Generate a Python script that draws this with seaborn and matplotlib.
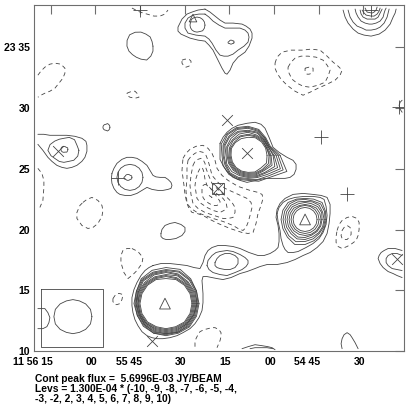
#!/usr/bin/env python3
# Contour map of continuum flux, contours
import numpy as np
import pandas as pd
import matplotlib
matplotlib.use("Agg")
import matplotlib.pyplot as plt
from matplotlib.transforms import ScaledTranslation
import seaborn as sb

#%% Axis labels (RA seconds relative to 11 56 00, Dec minutes relative to 23 00)
ra_ticks = [15, 0, -15, -30, -45, -60, -75, -90]
ra_labels = ["11 56 15", "00", "55 45", "30", "15", "00", "54 45", "30"]
dec_ticks = [35, 30, 25, 20, 15, 10]
dec_labels = ["23 35", "30", "25", "20", "15", "10"]
note_lines = ["Cont peak flux =  5.6996E-03 JY/BEAM",
              "Levs = 1.300E-04 * (-10, -9, -8, -7, -6, -5, -4,",
              "-3, -2, 2, 3, 4, 5, 6, 7, 8, 9, 10)"]

#%% Positive contours, traced as (x, y) on the 409 px sheet
pos_left_1 = [(38,134),(44,134),(50,135),(58,135),(67,135),(75,136),(82,138),(86,141),(87,145),(87,151),(85,157),(82,161),(77,165),(72,167),(67,168),(62,167),(57,165),(52,161),(48,157),(43,150),(38,144)]
pos_mid_1 = [(112,173),(114,168),(117,163),(122,159),(127,157),(132,157),(137,158),(142,161),(147,165),(150,170),(153,175),(156,176.5),(160,177),(165,177),(168,179),(171,182),(172,185),(171,188),(168,189),(163,190),(158,190),(152,189),(147,187),(142,190),(137,193),(131,195),(125,195),(120,194),(117,192),(114,188),(112,183),(111.5,178),(112,173)]
pos_arm_1 = [(205,9),(198,10),(192,12),(187,14),(182,19),(178,27),(178,31),(181,34),(190,38),(198,40),(205,41),(209,45),(213,50),(218,60),(222,68),(225,73),(227,74),(230,70),(233,63),(238,57),(245,52),(249,46),(252,38),(252,33),(250,29),(246,26),(242,24),(233,23),(225,23),(220,20),(215,16),(210,12),(205,9)]
pos_arm_2 = [(205,14),(199,14),(193,15),(188,18),(185,23),(185,28),(188,33),(196,35),(205,36),(209,39),(212,43),(216,50),(220,55),(224,56),(228,56),(233,54),(238,50),(244,46),(248,42),(249,37),(248,33),(245,30),(240,28),(233,28),(225,28),(219,25),(213,21),(209,17),(205,14)]
pos_corner_1 = [(343,10),(345,17),(348,23),(353,29),(358,33),(364,35),(371,36),(379,34),(385,30),(390,24),(393,17),(395,13),(396,9)]
pos_corner_2 = [(348,10),(350,17),(353,22),(357,26),(362,28),(366,30),(371,30),(376,29),(380,27),(384,23),(387,17),(388,13),(389,9)]
pos_corner_3 = [(355,9),(356,13),(358,17),(361,21),(365,23),(369,24),(372,24),(376,23),(380,21),(383,17),(384,13),(385,10),(386,8)]
pos_corner_4 = [(360,10),(361,14),(363,17),(367,19),(371,19),(375,19),(378,17),(380,13),(382,9)]
pos_corner_5 = [(362,10),(364,13),(366,15),(371,16),(374,16),(377,14),(379,11),(380,8)]
pos_corner_6 = [(365,8),(366,10),(367,12),(372,13),(374,12),(376,10),(377,7)]
pos_north_1 = [(220,143),(223,137),(227,132),(232,128),(238,125),(247,123),(255,122),(261,124),(265,128),(269,137),(273,147),(279,152),(287,157),(293,160),(296,164),(296,169),(294,174),(290,177),(285,178),(275,178),(265,178),(256,180),(247,182),(240,180),(233,177),(227,171),(223,165),(220,159),(220,153),(220,148),(220,143)]
pos_bridge = [(153,265),(161,263),(170,263),(179,264),(187,265),(194,267),(200,268),(203,262),(205,255),(208,250),(212,247),(218,245),(225,245),(233,246),(240,248),(249,252),(258,255),(264,255),(270,253),(275,250),(278,247),(279,241),(279,233),(278,225),(276,217),(277,209),(280,203),(285,198),(293,194),(303,193),(313,194),(321,195),(327,197),(330,204),(330,213),(329,223),(327,233),(323,241),(317,247),(310,252),(303,255),(295,259),(287,262),(277,264),(267,264),(260,266),(255,268),(247,271),(240,273),(231,277),(223,279),(217,278),(212,277),(207,276),(203,276),(202,280),(203,293),(203,302),(202,310),(199,317),(195,323),(190,328),(183,332),(177,335),(170,337),(163,338),(157,338),(152,337),(147,335),(142,331),(138,325),(135,319),(133,312),(132,305),(132,297),(134,289),(137,282),(141,275),(145,270),(149,267),(153,265)]
pos_saddle_1 = [(215,262),(217,258),(220,255),(225,253),(230,253),(235,255),(238,258),(238,263),(235,267),(230,269),(225,269),(220,268),(217,267),(215,265),(215,262)]
pos_saddle_2 = [(207,265),(208,260),(212,255),(216,252),(220,251),(227,250),(233,251),(240,254),(245,257),(248,260),(248,263),(246,266),(242,269),(235,272),(227,275),(220,274),(213,272),(209,269),(207,265)]
pos_east_2 = [(277,213),(279,207),(283,202),(288,199),(295,197),(304,196),(313,196),(320,197),(324,199),(326,206),(327,215),(326,224),(323,232),(319,238),(313,243),(306,247),(298,251),(293,252),(288,252),(285,249),(283,245),(281,238),(280,230),(278,221),(277,213)]
pos_right_1 = [(402,250),(395,248),(388,248),(384,250),(381,252),(379,255),(378,258),(380,263),(383,267),(388,271),(393,273),(397,275),(402,277)]
pos_right_2 = [(402,255),(397,253),(392,253),(388,255),(386,258),(386,262),(388,265),(392,268),(397,269),(402,270)]
pos_bottom_1 = [(342,348),(341,343),(342,338),(344,334),(347,332),(350,334),(352,337),(355,342),(358,348)]
pos_bottom_2 = [(242,348),(248,346),(255,344),(262,345),(268,346),(272,347),(275,349)]
pos_bottom_3 = [(250,348),(255,347),(260,347),(267,347),(273,348)]
pos_small = [(161,233),(162,229),(165,225),(170,223),(175,222),(181,224),(185,227),(185,231),(182,235),(176,238),(170,239),(166,239),(163,238),(161,236),(161,233)]
pos_edge = [(402,100),(400,102),(399,105),(400,109),(402,112)]

#%% Negative contours
neg_west = [(38,75),(41,71),(45,67),(50,64),(55,63),(61,64),(65,68),(65,73),(63,78),(59,83),(55,88),(50,91),(45,93),(41,95),(38,97)]
neg_top = [(132,8),(140,12),(147,14),(154,16),(160,16),(165,14),(168,10)]
neg_dot_1 = [(182,60),(185,59),(189,59),(191,61),(191,63),(189,66),(186,67),(184,66),(182,63),(182,60)]
neg_dot_2 = [(127,93),(132,91),(135,91),(137,93),(139,97),(135,98),(130,97),(127,95),(127,93)]
neg_side = [(38,168),(42,173),(44,180),(44,187),(43,200),(40,207)]
neg_blob_1 = [(83,202),(87,199),(92,197),(98,200),(102,205),(103,210),(102,216),(98,223),(93,227),(88,228),(82,225),(77,218),(77,212),(80,205),(83,202)]
neg_blob_2 = [(132,248),(138,251),(143,257),(142,263),(137,270),(133,274),(128,278),(124,272),(121,262),(121,255),(123,250),(127,248),(132,248)]
neg_blob_3 = [(113,298),(115,295),(117,293),(120,293),(123,294),(122,299),(120,303),(117,304),(115,304),(113,301),(113,298)]
neg_low = [(195,346),(195,342),(196,338),(198,334),(200,331),(204,329),(208,328),(212,327),(215,327),(219,329),(221,332),(221,336),(220,340),(217,347)]
neg_east_1 = [(337,230),(339,224),(342,220),(347,217),(352,216),(357,218),(359,222),(359,229),(358,235),(356,240),(352,243),(347,246),(342,248),(338,246),(336,242),(336,236),(337,230)]
neg_east_2 = [(342,230),(344,227),(347,225),(350,227),(351,230),(351,234),(349,237),(347,239),(344,239),(342,238),(341,235),(342,230)]
neg_ne_1 = [(275,63),(277,57),(282,52),(291,50),(302,50),(311,49),(320,50),(327,56),(333,62),(338,66),(342,70),(340,75),(335,80),(327,84),(318,88),(310,92),(303,95),(295,91),(287,85),(281,79),(277,73),(275,68),(275,63)]
neg_ne_2 = [(288,67),(291,62),(295,58),(301,56),(308,56),(316,57),(323,60),(327,65),(330,70),(328,76),(325,82),(318,85),(310,87),(303,86),(297,83),(292,79),(290,75),(288,71),(288,67)]
neg_ne_3 = [(305,68),(309,67),(313,68),(313,71),(312,73),(309,74),(307,74),(305,71),(305,68)]
neg_core_1 = [(183,158),(186,153),(190,149),(196,146),(203,145),(208,148),(212,153),(215,160),(217,168),(222,175),(228,180),(238,186),(250,190),(258,192),(262,194),(263,198),(261,205),(258,213),(256,223),(253,232),(248,233),(242,232),(230,228),(218,223),(210,219),(203,215),(197,213),(192,212),(189,208),(187,203),(185,194),(184,185),(182,170),(183,158)]
neg_core_2 = [(188,160),(191,156),(195,153),(199,151),(203,152),(206,155),(208,160),(210,167),(212,175),(218,182),(225,188),(236,193),(247,198),(251,202),(252,207),(250,215),(248,222),(246,227),(243,230),(238,228),(233,225),(223,221),(213,218),(205,215),(197,212),(191,208),(187,203),(186,190),(187,178),(187,168),(188,160)]
neg_core_3 = [(193,165),(195,161),(198,159),(201,158),(203,159),(205,163),(206,168),(209,176),(212,183),(219,190),(227,197),(232,202),(235,207),(235,212),(233,217),(228,218),(223,218),(214,215),(205,212),(198,208),(193,203),(191,194),(190,185),(191,175),(193,165)]
neg_core_4 = [(198,172),(200,168),(202,167),(203,169),(204,172),(205,179),(207,185),(215,192),(223,198),(226,202),(227,207),(224,210),(220,212),(213,210),(207,207),(201,203),(197,198),(196,192),(195,185),(196,178),(198,172)]
neg_core_5 = [(203,185),(205,184),(208,185),(213,191),(218,198),(220,201),(220,203),(217,205),(213,205),(209,203),(205,200),(203,197),(202,193),(202,189),(203,185)]
neg_core_6 = [(209,195),(212,197),(209,198)]

#%% Round contours: radius read every 22.5 deg round a centre
round_shapes = [((141, 46), [12,12,13,13,14,15,16,15,14,13,12,12,13,15,14,13]),    # top blob
                ((106, 127), [4,4,4,4,3,3,3,3,3,3,3,3,3,4,4,4]),                    # isolated dot
                ((64, 150), [15,14,15,14,12,12,13,15,16,14,12,12,12,12,14,15]),     # west source
                ((64, 149), [4,4,3,3,3,3,3,3,3,3,3,3,3,3,4,4]),
                ((130, 177), [13,13,13,13,13,13,13,13,13,13,13,13,13,13,13,13]),    # central west source
                ((128, 177), [4,4,3,3,3,3,3,3,4,4,3,3,3,3,3,4]),
                ((197, 25), [8,8,8,8,8,8,8,7,7,7,7,7,7,7,8,8]),                     # top arm peak
                ((231, 42), [3,3,2,2,2,2,2,2,3,3,2,2,2,2,2,3])]

#%% Tight rings round the three bright sources
north_centre = (248, 155)
north_rings = [[19,19,19,19,18,18,18,18,17,17,17,17,17,18,18,20],
               [21,20,20,20,20,20,19,19,18,18,18,18,18,19,20,22],
               [22,20,21,21,21,21,21,20,19,19,19,19,19,20,21,24],
               [23,21,22,22,23,23,22,22,20,20,20,20,20,21,22,26],
               [25,22,22,24,24,25,24,23,21,21,21,21,21,22,24,29],
               [26,22,23,25,25,26,26,25,22,23,23,22,22,23,25,32],
               [28,23,24,26,27,28,27,26,24,24,25,24,23,24,27,35],
               [30,23,24,27,28,29,29,27,25,25,26,25,24,26,29,38],
               [32,24,25,28,29,30,30,29,26,27,27,26,25,28,31,42]]
east_centre = (305, 219)
east_rings = [[12,12,12,12,12,12,12,12,12,12,12,12,12,12,12,12],
              [14,14,14,14,14,14,14,14,14,14,14,14,14,14,14,14],
              [16,16,16,15,15,15,16,16,16,16,16,16,16,16,16,16],
              [17,18,18,17,17,17,18,18,18,18,18,19,18,17,17,17],
              [19,19,20,19,18,19,20,20,20,20,20,21,20,19,19,19],
              [20,21,22,20,20,21,22,22,22,22,23,24,22,21,20,20],
              [21,22,24,22,21,22,24,24,24,24,25,27,25,23,22,21]]
south_centre = (166, 303)
south_rings = [[26,26,26,26,25,26,26,26,26,26,26,25,25,25,26,26],
               [27,27,27,27,27,27,27,27,27,27,27,26,26,26,27,27],
               [28,28,28,28,28,28,28,28,28,28,28,27,27,27,28,28],
               [29,29,29,30,29,29,29,29,28,28,28,28,28,28,29,29],
               [30,30,30,31,31,31,30,30,29,29,29,29,29,29,29,30],
               [31,31,31,32,32,32,32,30,30,29,30,30,30,30,30,30],
               [31,32,33,34,33,33,33,31,30,30,30,31,30,31,31,31],
               [32,33,34,35,34,34,34,32,31,31,31,32,31,31,32,32],
               [33,33,35,37,36,36,35,32,32,31,32,32,32,32,33,33]]

#%% Beam inset and source markers
beam_box = [(41,288),(103,288),(103,346),(41,346),(41,288)]
beam_centre = (73, 316)
beam_main = [19,19,18,17,17,17,18,19,19,19,18,17,17,17,18,19]
beam_side = [(38,308),(42,308),(45,308),(48,312),(50,317),(49,322),(47,326),(43,328),(38,328)]
tri_points = [(165,303),(305,219)]
tri_small = [(193,18)]
cross_points = [(58,151),(227,120),(247,153),(397,258),(152,340),(218,188)]
plus_points = [(118,178),(140,10),(371,10),(321,137),(347,194),(399,107)]
box_points = [(218,188)]


def to_sky(pts):
    # sheet position to RA seconds / Dec minutes, calibrated on the tick marks
    pts = np.asarray(pts, dtype=float)
    return (95.4 - pts[:, 0]) / 44.62 * 15, 35 + (47.3 - pts[:, 1]) / 12.12


def ring(centre, radii):
    ang = np.deg2rad(np.arange(len(radii)) * 22.5)
    r = np.asarray(radii, dtype=float)
    pts = np.column_stack([centre[0] + r * np.cos(ang), centre[1] - r * np.sin(ang)])
    return np.vstack([pts, pts[:1]])


def table(paths):
    frames = []
    for k, p in enumerate(paths):
        ra, dec = to_sky(p)
        frames.append(pd.DataFrame({"ra": ra, "dec": dec, "id": k}))
    return pd.concat(frames, ignore_index=True)


pos_paths = [pos_left_1, pos_mid_1, pos_arm_1, pos_arm_2, pos_corner_1, pos_corner_2,
             pos_corner_3, pos_corner_4, pos_corner_5, pos_corner_6, pos_north_1,
             pos_bridge, pos_saddle_1, pos_saddle_2, pos_east_2, pos_right_1, pos_right_2,
             pos_bottom_1, pos_bottom_2, pos_bottom_3, pos_small, pos_edge,
             beam_box, beam_side, ring(beam_centre, beam_main)]
pos_paths += [ring(c, r) for c, r in round_shapes]
pos_paths += [ring(north_centre, r) for r in north_rings]
pos_paths += [ring(east_centre, r) for r in east_rings]
pos_paths += [ring(south_centre, r) for r in south_rings]
neg_paths = [neg_west, neg_top, neg_dot_1, neg_dot_2, neg_side, neg_blob_1, neg_blob_2,
             neg_blob_3, neg_low, neg_east_1, neg_east_2, neg_ne_1, neg_ne_2, neg_ne_3,
             neg_core_1, neg_core_2, neg_core_3, neg_core_4, neg_core_5, neg_core_6]

#%% Plot
sb.set_style("white")
plt.rcParams["font.family"] = ["Liberation Sans", "DejaVu Sans"]
W = 409.0
ink = "#444444"
grey = "#6e6e6e"

fig = plt.figure(figsize=(4.09, 4.09), dpi=100)
ax = fig.add_axes([34.3 / W, 1 - 351 / W, 370 / W, 345.7 / W])

sb.lineplot(data=table(pos_paths), x="ra", y="dec", units="id", estimator=None, sort=False,
            color=ink, linewidth=0.6, legend=False, ax=ax)
n_solid = len(ax.lines)
sb.lineplot(data=table(neg_paths), x="ra", y="dec", units="id", estimator=None, sort=False,
            color=ink, linewidth=0.6, legend=False, ax=ax)
for line in ax.lines[n_solid:]:
    line.set_linestyle((0, (5, 4)))

for pts, mark, size in [(tri_points, "^", 60), (tri_small, "^", 30), (box_points, "s", 70)]:
    ra, dec = to_sky(pts)
    sb.scatterplot(x=ra, y=dec, marker=mark, s=size, linewidth=0.6, legend=False, ax=ax)
    ax.collections[-1].set_facecolor("none")
    ax.collections[-1].set_edgecolor(ink)
for pts, mark, size in [(cross_points, "x", 60), (plus_points, "+", 90)]:
    ra, dec = to_sky(pts)
    sb.scatterplot(x=ra, y=dec, marker=mark, s=size, color=ink, linewidth=0.6, legend=False, ax=ax)

ax.set_xlim(20.5, -103.8)
ax.set_ylim(10, 38.47)
ax.set_xlabel("")
ax.set_ylabel("")
ax.set_xticks(ra_ticks, ra_labels, ha="right")
ax.set_yticks(dec_ticks, dec_labels)
ax.tick_params(direction="in", length=6.8, width=0.8, color=grey, top=True, right=True,
               labelsize=7.6, pad=3, labelcolor="black")
ax.tick_params(axis="x", pad=4)
for lab in ax.get_xticklabels():
    lab.set_fontweight("bold")
    lab.set_transform(lab.get_transform() + ScaledTranslation(0.02, 0, fig.dpi_scale_trans))
for lab in ax.get_yticklabels():
    lab.set_fontweight("bold")
for s in ax.spines.values():
    s.set_color(grey)
    s.set_linewidth(0.8)

for line, py in zip(note_lines, [379, 389, 399]):
    fig.text(35 / W, 1 - py / W, line, fontsize=7.4, fontweight="bold", va="center", color="black")

fig.savefig("out.png", dpi=100)
